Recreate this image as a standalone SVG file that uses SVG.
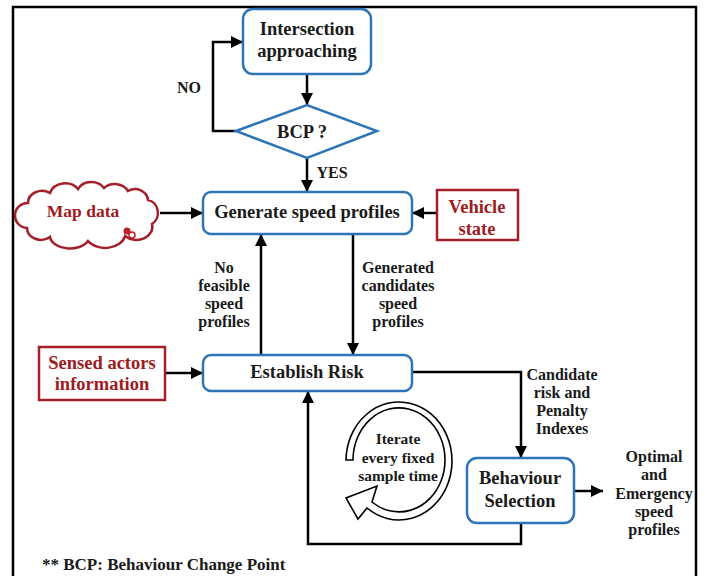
<svg xmlns="http://www.w3.org/2000/svg" width="717" height="576" viewBox="0 0 717 576">
<defs>
<style>
.t{font-family:"Liberation Serif","Times New Roman",serif;font-weight:bold;fill:#1a1a1a;text-anchor:middle;dominant-baseline:central}
.n{font-size:18.5px}
.l{font-size:16px}
.r{fill:#9e1b1f}
.bx{fill:#fff;stroke:#2e75b6;stroke-width:2.5}
.rb{fill:#fff;stroke:#a3202a;stroke-width:2.5}
.c{fill:none;stroke:#000;stroke-width:2.5}
</style>
<marker id="ah" viewBox="0 0 10 10" refX="10" refY="5" markerWidth="12" markerHeight="12" markerUnits="userSpaceOnUse" orient="auto">
<path d="M0,0 L10,5 L0,10 z" fill="#000"/>
</marker>
</defs>
<rect width="717" height="576" fill="#fff"/>
<path d="M13 580 V7 H696 V580" fill="none" stroke="#000" stroke-width="2.5"/>

<g id="connectors">
<path class="c" d="M307 74 V105" marker-end="url(#ah)"/>
<path class="c" d="M236 131 H213 V42 H243" marker-end="url(#ah)"/>
<path class="c" d="M307 158 V192" marker-end="url(#ah)"/>
<path class="c" d="M160 213 H203" marker-end="url(#ah)"/>
<path class="c" d="M437 213 H412" marker-end="url(#ah)"/>
<path class="c" d="M261 355 V234" marker-end="url(#ah)"/>
<path class="c" d="M353 234 V355" marker-end="url(#ah)"/>
<path class="c" d="M165 373 H203" marker-end="url(#ah)"/>
<path class="c" d="M412 372 H521 V458" marker-end="url(#ah)"/>
<path class="c" d="M574 491 H603" marker-end="url(#ah)"/>
<path class="c" d="M521 523 V544 H308 V391" marker-end="url(#ah)"/>
<text class="t l" x="189" y="87">NO</text>
<text class="t l" x="332" y="172">YES</text>
<text class="t l" x="224" y="267">No</text>
<text class="t l" x="224" y="285">feasible</text>
<text class="t l" x="224" y="303">speed</text>
<text class="t l" x="224" y="321">profiles</text>
<text class="t l" x="398" y="267">Generated</text>
<text class="t l" x="398" y="285">candidates</text>
<text class="t l" x="398" y="303">speed</text>
<text class="t l" x="398" y="321">profiles</text>
<text class="t l" x="562" y="374">Candidate</text>
<text class="t l" x="562" y="392">risk and</text>
<text class="t l" x="562" y="410">Penalty</text>
<text class="t l" x="562" y="428">Indexes</text>
<text class="t l" x="654" y="456">Optimal</text>
<text class="t l" x="654" y="474">and</text>
<text class="t l" x="654" y="493">Emergency</text>
<text class="t l" x="654" y="511">speed</text>
<text class="t l" x="654" y="529">profiles</text>
</g>

<g id="intersection">
<rect class="bx" x="243" y="9" width="128" height="65" rx="10"/>
<text class="t n" x="307" y="29">Intersection</text>
<text class="t n" x="307" y="51">approaching</text>
</g>

<g id="bcp">
<polygon class="bx" points="236,131 307,105 377,131 307,158"/>
<text class="t n" x="302" y="132">BCP ?</text>
</g>

<g id="mapdata">
<path d="M28 203 A14 12 0 0 1 50 193 A16 14 0 0 1 78 189 A15 13 0 0 1 104 188 A15 13 0 0 1 128 191 A13 12 0 0 1 148 200 A12 13 0 0 1 152 224 A16 13 0 0 1 125 236 A20 14 0 0 1 88 241 A20 13 0 0 1 50 237 A14 12 0 0 1 27 228 A12 12 0 0 1 28 203 Z" fill="#fff" stroke="#a3202a" stroke-width="2.5"/>
<circle cx="127" cy="231" r="3.5" fill="#c0202a"/>
<circle cx="132" cy="235" r="3" fill="none" stroke="#c0202a" stroke-width="1.5"/>
<text class="t r" style="font-size:17.5px" x="83" y="211">Map data</text>
</g>

<g id="generate">
<rect class="bx" x="203" y="192" width="209" height="42" rx="8"/>
<text class="t n" x="307" y="212">Generate speed profiles</text>
</g>

<g id="vehicle">
<rect class="rb" x="437" y="190" width="81" height="50"/>
<text class="t n r" x="477" y="207">Vehicle</text>
<text class="t n r" x="477" y="229">state</text>
</g>

<g id="sensed">
<rect class="rb" x="39" y="347" width="126" height="53"/>
<text class="t n r" x="102" y="363">Sensed actors</text>
<text class="t n r" x="102" y="384">information</text>
</g>

<g id="risk">
<rect class="bx" x="203" y="355" width="209" height="36" rx="8"/>
<text class="t n" x="307" y="372">Establish Risk</text>
</g>

<g id="behaviour">
<rect class="bx" x="467" y="458" width="107" height="65" rx="10"/>
<text class="t n" x="520" y="478">Behaviour</text>
<text class="t n" x="520" y="501">Selection</text>
</g>

<g id="iterate">
<path d="M346 460 A53 59 0 1 1 367 508 L358 519 L346 498 L377 486 L372 502 A46 52 0 1 0 353 460 Z" fill="#fff" stroke="#000" stroke-width="1.6" stroke-linejoin="miter"/>
<text class="t" style="font-size:15.5px" x="398" y="438">Iterate</text>
<text class="t" style="font-size:15.5px" x="398" y="457">every fixed</text>
<text class="t" style="font-size:15.5px" x="398" y="475">sample time</text>
</g>

<text class="t" style="font-size:17px;text-anchor:start" x="42" y="564">** BCP: Behaviour Change Point</text>
</svg>
